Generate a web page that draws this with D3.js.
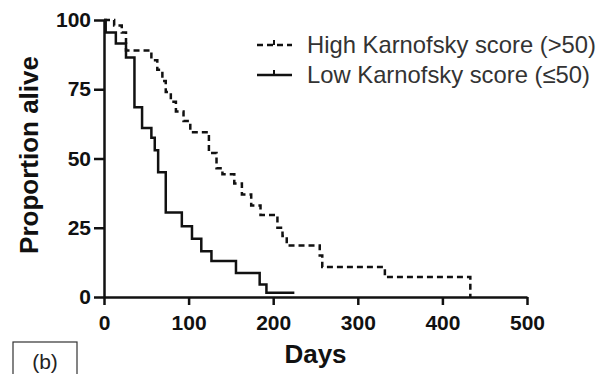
<!DOCTYPE html>
<html lang="en">
<head>
<meta charset="UTF-8">
<title>Survival by Karnofsky score</title>
<script src="https://d3js.org/d3.v7.min.js"></script>
<style>
    body { margin: 0; background: #fff; }
    svg { display: block; }
    .axis path, .axis line { stroke: #111; stroke-width: 2.5px; }
    .axis text { font: bold 21px Arial, "Liberation Sans", sans-serif; fill: #111; }
    .title { font: bold 26px Arial, "Liberation Sans", sans-serif; fill: #111; }
    .legend text { font: 23.8px Arial, "Liberation Sans", sans-serif; fill: #333; }
</style>
</head>
<body>
<svg id="chart" width="597" height="374"></svg>
<script>
    // Kaplan-Meier steps
    const highDays = [0, 12, 21, 26, 56, 63, 69, 73, 79, 85, 94, 102, 124, 133, 140, 154, 163, 174, 185, 205, 211, 216, 255, 258, 332, 433];
    const highSurv = [100, 98, 95.5, 89, 85.5, 82, 78, 74, 70.5, 67, 63.5, 59.5, 52, 46.5, 44.3, 41, 37, 33, 29.6, 25, 22, 18.6, 15, 10.8, 7.2, 0];

    const lowDays = [0, 2, 14, 26, 36, 45, 56, 60, 64, 73, 92, 104, 115, 127, 156, 184, 192, 225];
    const lowSurv = [100, 95.5, 91.5, 86.5, 68.5, 61, 57.5, 53, 45, 30.5, 25.5, 21, 16.5, 13, 8.7, 4.5, 1.5, 1.5];

    const xTicks = [0, 100, 200, 300, 400, 500];
    const yTicks = [0, 25, 50, 75, 100];
    const seriesNames = ["High Karnofsky score (>50)", "Low Karnofsky score (\u226450)"];

    const svg = d3.select("#chart");
    const margin = { top: 20, right: 70, bottom: 77, left: 104 };
    const width = 527 - margin.left;
    const height = 297 - margin.top;

    const g = svg.append("g").attr("transform", `translate(${margin.left},${margin.top})`);

    const x = d3.scaleLinear().domain([0, 500]).range([0, width]);
    const y = d3.scaleLinear().domain([0, 100]).range([height, 0]);

    g.append("g")
        .attr("class", "axis")
        .attr("transform", `translate(0,${height})`)
        .call(d3.axisBottom(x).tickValues(xTicks).tickSize(8).tickPadding(10).tickSizeOuter(0));

    g.append("g")
        .attr("class", "axis")
        .call(d3.axisLeft(y).tickValues(yTicks).tickSize(10).tickPadding(3).tickSizeOuter(0));

    const line = d3.line()
        .x(d => x(d[0]))
        .y(d => y(d[1]))
        .curve(d3.curveStepAfter);

    g.append("path")
        .datum(d3.zip(highDays, highSurv))
        .attr("fill", "none")
        .attr("stroke", "#111")
        .attr("stroke-width", 2.5)
        .attr("stroke-dasharray", "6,4")
        .attr("d", line);

    g.append("path")
        .datum(d3.zip(lowDays, lowSurv))
        .attr("fill", "none")
        .attr("stroke", "#111")
        .attr("stroke-width", 2.5)
        .attr("d", line);

    // axis titles
    svg.append("text")
        .attr("class", "title")
        .attr("x", margin.left + width / 2)
        .attr("y", 363)
        .attr("text-anchor", "middle")
        .text("Days");

    svg.append("text")
        .attr("class", "title")
        .attr("transform", "translate(38,155) rotate(-90)")
        .attr("text-anchor", "middle")
        .text("Proportion alive");

    // legend
    const legend = svg.append("g").attr("class", "legend");
    const rows = [{ dash: "6,4", y: 45 }, { dash: null, y: 75 }];
    rows.forEach((r, i) => {
        legend.append("line")
            .attr("x1", 257).attr("x2", 292)
            .attr("y1", r.y).attr("y2", r.y)
            .attr("stroke", "#111").attr("stroke-width", 2.5)
            .attr("stroke-dasharray", r.dash);
        legend.append("line")
            .attr("x1", 274).attr("x2", 274)
            .attr("y1", r.y - 5).attr("y2", r.y)
            .attr("stroke", "#111").attr("stroke-width", 2);
        legend.append("text")
            .attr("x", 307)
            .attr("y", r.y + 8)
            .text(seriesNames[i]);
    });

    // panel label
    svg.append("rect")
        .attr("x", 13).attr("y", 342)
        .attr("width", 64).attr("height", 40)
        .attr("fill", "none").attr("stroke", "#333").attr("stroke-width", 1.2);
    svg.append("text")
        .attr("x", 45).attr("y", 369)
        .attr("text-anchor", "middle")
        .style("font", "21px Arial, 'Liberation Sans', sans-serif")
        .attr("fill", "#222")
        .text("(b)");
</script>
</body>
</html>
